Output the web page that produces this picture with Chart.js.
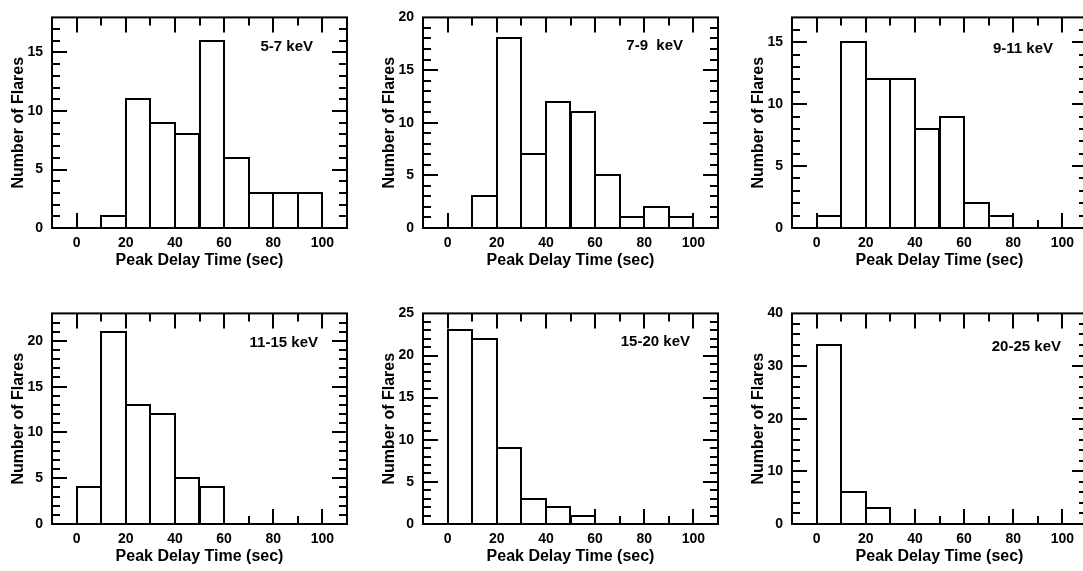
<!DOCTYPE html>
<html><head><meta charset="utf-8">
<script src="https://cdn.jsdelivr.net/npm/chart.js@4.4.1/dist/chart.umd.min.js"></script>
<style>
html,body{margin:0;padding:0;background:#fff;overflow:hidden;width:1083px;height:571px;position:relative;}
canvas{position:absolute;}
</style></head><body>
<canvas id="c0" width="368" height="275" style="left:0px;top:0px"></canvas>
<canvas id="c1" width="368" height="275" style="left:371px;top:0px"></canvas>
<canvas id="c2" width="368" height="275" style="left:740px;top:0px"></canvas>
<canvas id="c3" width="368" height="275" style="left:0px;top:296px"></canvas>
<canvas id="c4" width="368" height="275" style="left:371px;top:296px"></canvas>
<canvas id="c5" width="368" height="275" style="left:740px;top:296px"></canvas>
<script>
// ---- data ----
const binCenters = [5, 15, 25, 35, 45, 55, 65, 75, 85, 95];
const bandLabels = ['5-7 keV', '7-9  keV', '9-11 keV', '11-15 keV', '15-20 keV', '20-25 keV'];
const counts5to7   = [0, 1, 11, 9, 8, 16, 6, 3, 3, 3];
const counts7to9   = [0, 3, 18, 7, 12, 11, 5, 1, 2, 1];
const counts9to11  = [1, 15, 12, 12, 8, 9, 2, 1, 0, 0];
const counts11to15 = [4, 21, 13, 12, 5, 4, 0, 0, 0, 0];
const counts15to20 = [23, 22, 9, 3, 2, 1, 0, 0, 0, 0];
const counts20to25 = [34, 6, 3, 0, 0, 0, 0, 0, 0, 0];
const xTickLabels = [0, 20, 40, 60, 80, 100];
const xMinorTicks = [10, 30, 50, 70, 90];
const yTickLabels5to7   = [0, 5, 10, 15];
const yTickLabels7to9   = [0, 5, 10, 15, 20];
const yTickLabels9to11  = [0, 5, 10, 15];
const yTickLabels11to15 = [0, 5, 10, 15, 20];
const yTickLabels15to20 = [0, 5, 10, 15, 20, 25];
const yTickLabels20to25 = [0, 10, 20, 30, 40];
const yMaxima = [18, 20, 17, 23, 25, 40];
const yMinorSteps = [1, 1, 1, 1, 1, 2];
const xTitle = 'Peak Delay Time (sec)';
const yTitle = 'Number of Flares';

// ---- layout / style ----
const labelOffsets = [[34, 29], [35, 28], [34, 31], [29, 29], [28, 28], [26, 33]];
const FONT = "'Liberation Sans', Arial, Helvetica, sans-serif";
const panels = [
  [counts5to7, yTickLabels5to7], [counts7to9, yTickLabels7to9], [counts9to11, yTickLabels9to11],
  [counts11to15, yTickLabels11to15], [counts15to20, yTickLabels15to20], [counts20to25, yTickLabels20to25]
];

const framePlugin = {
  id: 'frame',
  beforeDatasetsDraw(chart) {
    const o = chart.options.plugins.frame;
    const {ctx, chartArea: a} = chart;
    const x = chart.scales.x, y = chart.scales.y;
    ctx.save();
    ctx.strokeStyle = '#000'; ctx.lineWidth = 2; ctx.lineCap = 'butt';
    ctx.beginPath();
    const vx = (v, len) => { const p = Math.round(x.getPixelForValue(v));
      ctx.moveTo(p, a.bottom); ctx.lineTo(p, a.bottom - len);
      ctx.moveTo(p, a.top); ctx.lineTo(p, a.top + len); };
    const hy = (v, len) => { const p = Math.round(y.getPixelForValue(v));
      ctx.moveTo(a.left, p); ctx.lineTo(a.left + len, p);
      ctx.moveTo(a.right, p); ctx.lineTo(a.right - len, p); };
    xTickLabels.forEach(v => vx(v, 15));
    xMinorTicks.forEach(v => vx(v, 8));
    o.yMajor.forEach(v => { if (v > 0 && v < o.yMax) hy(v, 15); });
    for (let v = o.yStep; v < o.yMax; v += o.yStep) {
      if (!o.yMajor.includes(v)) hy(v, 8);
    }
    ctx.stroke();
    ctx.restore();
  },
  afterDatasetsDraw(chart) {
    const o = chart.options.plugins.frame;
    const {ctx, chartArea: a} = chart;
    const ds = chart.data.datasets[0];
    ctx.save();
    ctx.strokeStyle = '#000'; ctx.lineWidth = 2; ctx.lineJoin = 'miter';
    ctx.beginPath();
    chart.getDatasetMeta(0).data.forEach((bar, i) => {
      if (!ds.data[i].y) return;
      const p = bar.getProps(['x', 'y', 'base', 'width'], true);
      const l = Math.round(p.x - p.width / 2), r = Math.round(p.x + p.width / 2);
      const t = Math.round(p.y), b = Math.round(p.base);
      ctx.rect(l, t, r - l, b - t);
    });
    ctx.stroke();
    ctx.strokeRect(a.left, a.top, a.right - a.left, a.bottom - a.top);
    ctx.fillStyle = '#000';
    ctx.font = 'bold 15px ' + FONT;
    ctx.textAlign = 'right'; ctx.textBaseline = 'middle';
    ctx.fillText(o.label, a.right - o.off[0], a.top + o.off[1]);
    ctx.restore();
  }
};

panels.forEach(([counts, yTicks], k) => {
  new Chart(document.getElementById('c' + k), {
    type: 'bar',
    data: {
      datasets: [{
        data: binCenters.map((c, i) => ({x: c, y: counts[i]})),
        backgroundColor: '#fff', borderWidth: 0,
        barPercentage: 1, categoryPercentage: 1
      }]
    },
    options: {
      responsive: false, animation: false, devicePixelRatio: 1,
      layout: {padding: {top: 7, right: 21, left: 0, bottom: 0}},
      plugins: {
        legend: {display: false}, tooltip: {enabled: false},
        frame: {label: bandLabels[k], off: labelOffsets[k], yMajor: yTicks, yMax: yMaxima[k], yStep: yMinorSteps[k]}
      },
      scales: {
        x: {
          type: 'linear', min: -10, max: 110, offset: false,
          grid: {display: false, drawTicks: false, offset: false}, border: {display: false},
          afterBuildTicks: s => { s.ticks = xTickLabels.map(v => ({value: v})); },
          afterFit: s => { s.height = 47; },
          ticks: {color: '#000', font: {family: FONT, size: 14, weight: 'bold'}, padding: 7, maxRotation: 0, autoSkip: false},
          title: {display: true, text: xTitle, color: '#000', font: {family: FONT, size: 16, weight: 'bold'}, padding: {top: 0, bottom: 5}}
        },
        y: {
          min: 0, max: yMaxima[k],
          grid: {display: false, drawTicks: false}, border: {display: false},
          afterBuildTicks: s => { s.ticks = yTicks.map(v => ({value: v})); },
          afterFit: s => { s.width = 52; },
          ticks: {color: '#000', font: {family: FONT, size: 14, weight: 'bold'}, padding: 9, autoSkip: false},
          title: {display: true, text: yTitle, color: '#000', font: {family: FONT, size: 16, weight: 'bold'}, padding: {top: 9, bottom: 0}}
        }
      }
    },
    plugins: [framePlugin]
  });
});
</script>
</body></html>
